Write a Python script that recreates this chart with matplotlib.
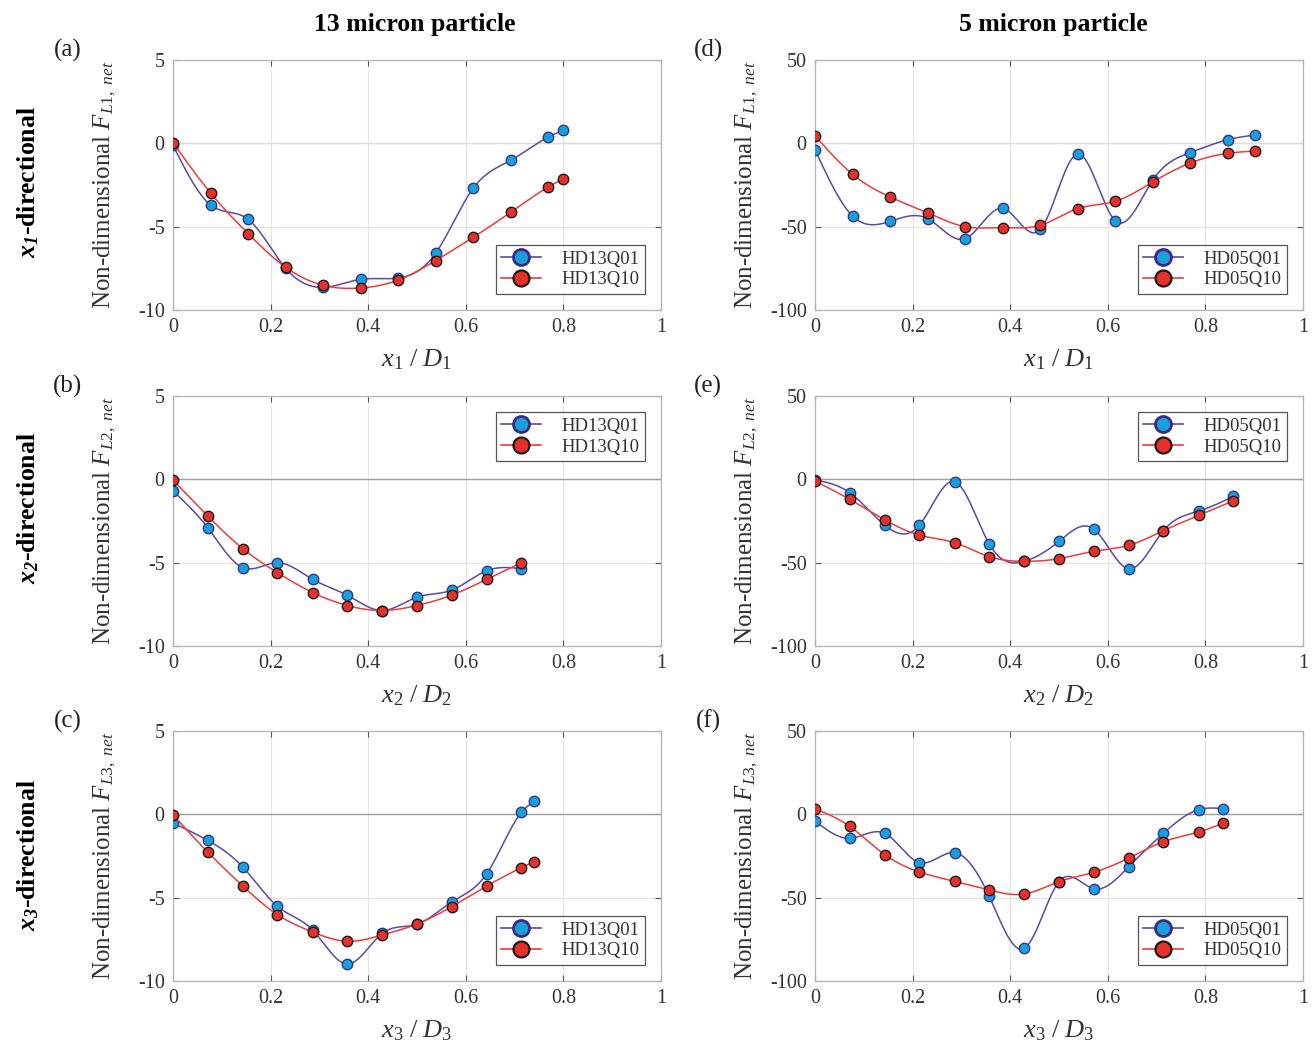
import numpy as np
import matplotlib
matplotlib.use("Agg")
import matplotlib.pyplot as plt
from matplotlib.lines import Line2D

plt.rcParams['font.family'] = ['Liberation Serif', 'DejaVu Serif']
plt.rcParams['mathtext.fontset'] = 'custom'
plt.rcParams['mathtext.rm'] = 'Liberation Serif'
plt.rcParams['mathtext.it'] = 'Liberation Serif:italic'
plt.rcParams['mathtext.bf'] = 'Liberation Serif:bold'
plt.rcParams['mathtext.bfit'] = 'Liberation Serif:bold:italic'
plt.rcParams['axes.unicode_minus'] = False

# ---- data ----
# 13 micron particle
xa = [0, 0.077, 0.154, 0.231, 0.308, 0.385, 0.462, 0.538, 0.615, 0.692, 0.769, 0.80]
a_q01 = [-0.12, -3.70, -4.56, -7.50, -8.64, -8.16, -8.08, -6.60, -2.70, -1.02, 0.38, 0.78]
a_q10 = [0.04, -2.98, -5.42, -7.44, -8.52, -8.68, -8.20, -7.04, -5.64, -4.14, -2.62, -2.12]

xb = [0, 0.071, 0.143, 0.214, 0.286, 0.357, 0.429, 0.500, 0.571, 0.643, 0.714]
b_q01 = [-0.70, -2.90, -5.30, -5.00, -6.00, -6.95, -7.87, -7.07, -6.65, -5.48, -5.36]
b_q10 = [-0.04, -2.19, -4.16, -5.60, -6.79, -7.57, -7.87, -7.57, -6.95, -6.00, -5.00]

xc = [0, 0.071, 0.143, 0.214, 0.286, 0.357, 0.429, 0.500, 0.571, 0.643, 0.714, 0.740]
c_q01 = [-0.52, -1.56, -3.16, -5.52, -6.94, -8.98, -7.14, -6.60, -5.26, -3.56, 0.12, 0.78]
c_q10 = [-0.04, -2.26, -4.30, -6.02, -7.06, -7.62, -7.24, -6.58, -5.54, -4.30, -3.20, -2.84]

# 5 micron particle
xd = [0, 0.077, 0.154, 0.231, 0.308, 0.385, 0.462, 0.538, 0.615, 0.692, 0.769, 0.846, 0.902]
d_q01 = [-3.8, -43.6, -46.8, -45.2, -57.2, -39.0, -51.6, -6.4, -46.4, -22.2, -5.6, 2.2, 5.0]
d_q10 = [4.6, -18.6, -32.2, -41.8, -50.0, -50.6, -49.2, -39.2, -34.8, -23.2, -11.8, -6.0, -4.6]

xe = [0, 0.071, 0.143, 0.214, 0.286, 0.357, 0.429, 0.500, 0.571, 0.643, 0.714, 0.786, 0.857]
e_q01 = [-0.4, -8.0, -27.5, -27.5, -1.4, -38.8, -49.2, -37.2, -29.8, -53.7, -30.8, -19.1, -10.3]
e_q10 = [-1.0, -12.0, -24.3, -33.5, -38.0, -46.4, -49.2, -47.6, -43.2, -39.6, -30.8, -21.7, -12.9]

xf = [0, 0.071, 0.143, 0.214, 0.286, 0.357, 0.429, 0.500, 0.571, 0.643, 0.714, 0.786, 0.836]
f_q01 = [-4.0, -14.4, -11.4, -29.0, -23.0, -49.2, -80.4, -40.4, -44.6, -31.4, -11.4, 2.8, 3.4]
f_q10 = [3.4, -7.2, -24.2, -34.6, -40.2, -45.4, -47.8, -40.4, -34.8, -26.2, -16.4, -10.6, -5.4]

blue_line, blue_face, blue_edge = '#5b4a9e', '#1a9fdb', '#2c3a8c'
red_line, red_face, red_edge = '#f03a3a', '#e8302a', '#1a1a1a'


def spline_curve(x, y, n=400):
    # natural cubic spline through the points, only for drawing the line
    x = np.asarray(x, float)
    y = np.asarray(y, float)
    m = len(x)
    h = np.diff(x)
    A = np.zeros((m, m))
    r = np.zeros(m)
    A[0, 0] = A[-1, -1] = 1
    for i in range(1, m - 1):
        A[i, i - 1] = h[i - 1]
        A[i, i] = 2 * (h[i - 1] + h[i])
        A[i, i + 1] = h[i]
        r[i] = 3 * ((y[i + 1] - y[i]) / h[i] - (y[i] - y[i - 1]) / h[i - 1])
    c = np.linalg.solve(A, r)
    b = (y[1:] - y[:-1]) / h - h * (2 * c[:-1] + c[1:]) / 3
    d = (c[1:] - c[:-1]) / (3 * h)
    xs = np.linspace(x[0], x[-1], n)
    idx = np.clip(np.searchsorted(x, xs) - 1, 0, m - 2)
    dx = xs - x[idx]
    ys = y[idx] + b[idx] * dx + c[idx] * dx ** 2 + d[idx] * dx ** 3
    return xs, ys


fig = plt.figure(figsize=(13.16, 10.53), dpi=100)

W, H = 1316, 1053
lefts = [173, 815]
tops = [60, 396, 731]
aw, ah = 488, 250

panels = [
    # col, row, x, q01, q10, ylim, yticks, names, legend loc, idx, label, darker zero line
    (0, 0, xa, a_q01, a_q10, (-10, 5), [-10, -5, 0, 5], ('HD13Q01', 'HD13Q10'), 'lower right', 1, '(a)', False),
    (0, 1, xb, b_q01, b_q10, (-10, 5), [-10, -5, 0, 5], ('HD13Q01', 'HD13Q10'), 'upper right', 2, '(b)', True),
    (0, 2, xc, c_q01, c_q10, (-10, 5), [-10, -5, 0, 5], ('HD13Q01', 'HD13Q10'), 'lower right', 3, '(c)', True),
    (1, 0, xd, d_q01, d_q10, (-100, 50), [-100, -50, 0, 50], ('HD05Q01', 'HD05Q10'), 'lower right', 1, '(d)', False),
    (1, 1, xe, e_q01, e_q10, (-100, 50), [-100, -50, 0, 50], ('HD05Q01', 'HD05Q10'), 'upper right', 2, '(e)', True),
    (1, 2, xf, f_q01, f_q10, (-100, 50), [-100, -50, 0, 50], ('HD05Q01', 'HD05Q10'), 'lower right', 3, '(f)', True),
]

for col, row, x, q01, q10, ylim, yticks, names, loc, k, plab, dark0 in panels:
    ax = fig.add_axes([lefts[col] / W, 1 - (tops[row] + ah) / H, aw / W, ah / H])
    ax.set_xlim(0, 1)
    ax.set_ylim(*ylim)
    ax.set_xticks([0, 0.2, 0.4, 0.6, 0.8, 1])
    ax.set_xticklabels(['0', '0.2', '0.4', '0.6', '0.8', '1'])
    ax.set_yticks(yticks)
    ax.grid(True, color='#e4e4e4', lw=0.8)
    ax.set_axisbelow(True)
    ax.axhline(0, color='#a0a0a0' if dark0 else '#dcdcdc', lw=1.0, zorder=1)
    for s in ax.spines.values():
        s.set_color('#b4b4b4')
        s.set_linewidth(0.9)
    ax.tick_params(direction='in', length=4, width=0.8, color='#555555',
                   labelsize=14.5, labelcolor='#333333', top=True, right=True, pad=6)

    xs, ys = spline_curve(x, q01)
    ax.plot(xs, ys, color=blue_line, lw=1.1, zorder=3)
    ax.plot(x, q01, 'o', ms=7.5, mfc=blue_face, mec=blue_edge, mew=1.0, zorder=4)
    xs, ys = spline_curve(x, q10)
    ax.plot(xs, ys, color=red_line, lw=1.1, zorder=5)
    ax.plot(x, q10, 'o', ms=7.5, mfc=red_face, mec=red_edge, mew=1.0, zorder=6)

    handles = [
        Line2D([], [], color=blue_line, lw=1.2, marker='o', ms=11.5, mfc=blue_face, mec='#3a2a86', mew=2.0),
        Line2D([], [], color=red_line, lw=1.2, marker='o', ms=11.5, mfc=red_face, mec=red_edge, mew=1.6),
    ]
    leg = ax.legend(handles, names, loc=loc, fontsize=13.5, frameon=True, fancybox=False,
                    framealpha=1, edgecolor='#555555', handlelength=2.1, handletextpad=1.1,
                    borderaxespad=0.85, borderpad=0.3, labelspacing=0.2)
    leg.get_frame().set_linewidth(0.9)
    for t in leg.get_texts():
        t.set_color('#333333')

    ax.set_xlabel(r'$x_{\mathit{%d}}\ /\ D_{\mathit{%d}}$' % (k, k), fontsize=19, color='#333333', labelpad=7)
    ax.set_ylabel(r'Non-dimensional $F_{\mathit{L%d,\ net}}$' % k, fontsize=18, color='#333333')
    ax.yaxis.set_label_coords(-0.112, 0.5)

    px = 68 if col == 0 else 708
    fig.text(px / W, 1 - (tops[row] - 10) / H, plab, fontsize=18, ha='center', va='center', color='#222222')

fig.text(415 / W, 1 - 24 / H, '13 micron particle', fontsize=18.5, fontweight='bold', ha='center', va='center')
fig.text(1053 / W, 1 - 24 / H, '5 micron particle', fontsize=18.5, fontweight='bold', ha='center', va='center')

for row, yc in zip(range(3), [182, 508, 855]):
    fig.text(28 / W, 1 - yc / H, r'$\mathbfit{x}_{\mathbfit{%d}}$-directional' % (row + 1),
             fontsize=18.5, fontweight='bold', rotation=90, ha='center', va='center')

fig.savefig('out.png', dpi=100, facecolor='white')
